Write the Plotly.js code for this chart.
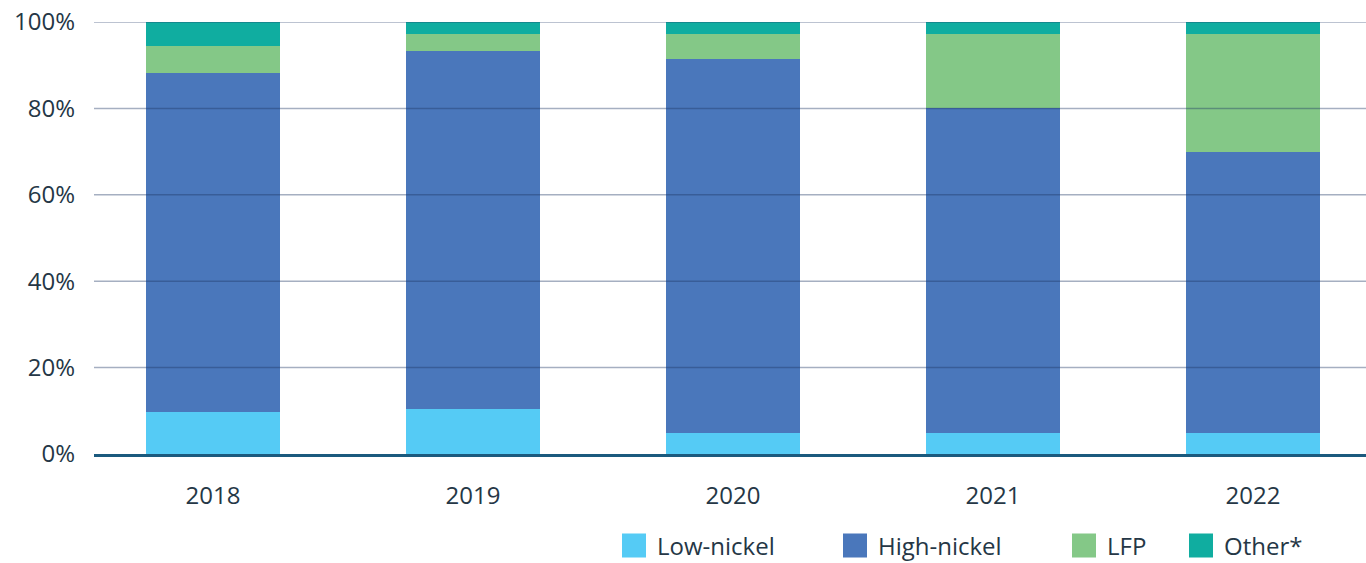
<!DOCTYPE html>
<html>
<head>
<meta charset="utf-8">
<script src="https://cdn.plot.ly/plotly-3.0.1.min.js"></script>
<style>html,body{margin:0;padding:0;background:#fff;}#chart{width:1366px;height:563px;}</style>
</head>
<body>
<div id="chart"></div>
<script>
// ---- Data ----
const years = ['2018', '2019', '2020', '2021', '2022'];
const seriesNames = ['Low-nickel', 'High-nickel', 'LFP', 'Other*'];
const lowNickel = [9.7, 10.4, 4.9, 4.9, 4.9];
const highNickel = [78.5, 82.9, 86.5, 75.2, 65.0];
const lfp = [6.2, 3.9, 5.8, 17.1, 27.3];
const other = [5.6, 2.8, 2.8, 2.8, 2.8];
const yTickVals = [0, 20, 40, 60, 80, 100];
const yTickText = ['0%', '20%', '40%', '60%', '80%', '100%'];

// ---- Styles ----
const colors = ['#55CBF5', '#4A77BB', '#84C887', '#10ADA0'];
const textColor = '#253746';
const fontFamily = '"Open Sans", "Noto Sans", sans-serif';
const legendIds = ['legend', 'legend2', 'legend3', 'legend4'];
const legendX = [617, 838, 1067, 1184];   // legend box left edges, px from page left
const SWATCH_PATH = 'M9,12H-15V-12H9Z';    // 24x24 legend swatch, relative to symbol centre

const values = [lowNickel, highNickel, lfp, other];
const traces = values.map((v, i) => ({
  type: 'bar',
  name: seriesNames[i],
  x: years,
  y: v,
  marker: {color: colors[i], line: {width: 0}},
  legend: legendIds[i],
  hoverinfo: 'x+y+name'
}));

const shapes = yTickVals.filter(v => v > 0).map(v => ({
  type: 'line', layer: 'above', xref: 'paper', x0: 0, x1: 1, yref: 'y', y0: v, y1: v,
  line: {color: 'rgba(31,56,100,0.4)', width: 1.5}
}));

const W = 1366, H = 563;
const layout = {
  width: W, height: H,
  margin: {l: 94, r: 0, t: 22, b: 109, pad: 0},
  paper_bgcolor: '#ffffff', plot_bgcolor: '#ffffff',
  font: {family: fontFamily, size: 24, color: textColor},
  barmode: 'stack',
  bargap: 0.485,
  xaxis: {
    type: 'category', range: [-0.458, 4.435],
    showgrid: false, zeroline: false,
    showline: true, linecolor: '#1B5A7E', linewidth: 3,
    ticks: '', ticklabelstandoff: 18,
    tickfont: {family: fontFamily, size: 24, color: textColor}
  },
  yaxis: {
    range: [0, 100], tickvals: yTickVals, ticktext: yTickText,
    showgrid: false, zeroline: false, showline: false,
    ticks: '', ticklabelstandoff: 18,
    tickfont: {family: fontFamily, size: 24, color: textColor}
  },
  shapes: shapes,
  showlegend: true
};
legendIds.forEach((id, i) => {
  layout[id] = {
    orientation: 'h', x: legendX[i] / W, xanchor: 'left',
    y: 1 - 546 / H, yanchor: 'middle',
    xref: 'container', yref: 'container', bgcolor: 'rgba(0,0,0,0)',
    font: {family: fontFamily, size: 24, color: textColor}
  };
});

function enlargeSwatches() {
  document.querySelectorAll('.legendsymbols path').forEach(p => p.setAttribute('d', SWATCH_PATH));
}

const gd = document.getElementById('chart');
Plotly.newPlot(gd, traces, layout, {displayModeBar: false}).then(() => {
  enlargeSwatches();
  gd.on('plotly_afterplot', enlargeSwatches);
  setTimeout(enlargeSwatches, 0);
});
</script>
</body>
</html>
